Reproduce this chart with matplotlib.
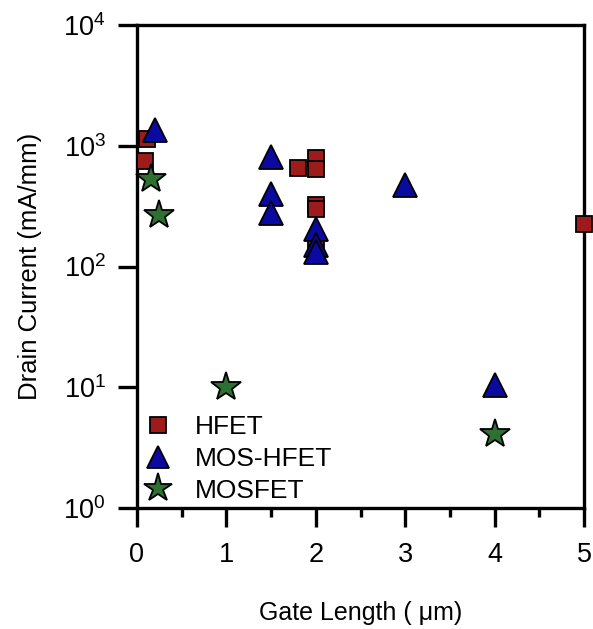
import numpy as np
import matplotlib
matplotlib.use("Agg")
import matplotlib.pyplot as plt
from matplotlib.ticker import FixedLocator, FuncFormatter, NullLocator

plt.rcParams['font.family'] = ['Liberation Sans', 'DejaVu Sans']
plt.rcParams['mathtext.fontset'] = 'custom'
plt.rcParams['mathtext.rm'] = 'Liberation Sans'

# Data
hfet_x = [0.09, 0.11, 1.80, 2.0, 2.0, 2.0, 2.0, 2.0, 5.0]
hfet_y = [750, 1140, 658, 795, 645, 325, 300, 147, 223]
moshfet_x = [0.2, 1.5, 1.5, 1.5, 2.0, 2.0, 2.0, 3.0, 4.0]
moshfet_y = [1360, 810, 395, 280, 206, 152, 131, 470, 10.4]
mosfet_x = [0.16, 0.25, 1.0, 4.0]
mosfet_y = [533, 265, 10.0, 4.07]
labels = ["HFET", "MOS-HFET", "MOSFET"]

fig = plt.figure(figsize=(5.93, 6.29), dpi=100)
ax = fig.add_axes([137/593, 1-508/629, (584-137)/593, (508-25)/629])

ax.plot(hfet_x, hfet_y, ls='none', marker='s', ms=11.5, mfc='#9E1B1B', mec='black', mew=1.3,
        label=labels[0], clip_on=False, zorder=3)
ax.plot(moshfet_x, moshfet_y, ls='none', marker='^', ms=17, mfc='#0A0AA0', mec='black', mew=1.3,
        label=labels[1], clip_on=False, zorder=4)
ax.plot(mosfet_x, mosfet_y, ls='none', marker='*', ms=22, mfc='#2E7032', mec='black', mew=1.3,
        label=labels[2], clip_on=False, zorder=5)

ax.set_yscale('log')
ax.set_xlim(0, 5)
ax.set_ylim(1, 1e4)
ax.yaxis.set_major_locator(FixedLocator([1, 10, 100, 1000, 10000]))
ax.yaxis.set_minor_locator(NullLocator())
ax.yaxis.set_major_formatter(FuncFormatter(lambda v, p: r'$\mathregular{10^{%d}}$' % int(round(np.log10(v)))))
ax.xaxis.set_major_locator(FixedLocator([0, 1, 2, 3, 4, 5]))
ax.xaxis.set_minor_locator(FixedLocator([0.5, 1.5, 2.5, 3.5, 4.5]))

for s in ax.spines.values():
    s.set_linewidth(2.4)
ax.tick_params(axis='both', which='major', direction='out', length=13.5, width=2.4, labelsize=19.5, pad=9)
ax.tick_params(axis='x', which='major', pad=11)
ax.tick_params(axis='x', which='minor', direction='out', length=6.5, width=2.4)
ax.tick_params(top=False, right=False)

ax.set_xlabel('Gate Length ( μm)', fontsize=18, labelpad=24)
ax.set_ylabel('Drain Current (mA/mm)', fontsize=18.5, labelpad=15)

leg = ax.legend(loc='lower left', bbox_to_anchor=(0.0, 0.0), frameon=False, fontsize=19,
                handletextpad=0.8, labelspacing=0.3, borderaxespad=0.05, borderpad=0.15,
                handlelength=1.2, markerscale=0.95)

fig.savefig('out.png', dpi=100)
